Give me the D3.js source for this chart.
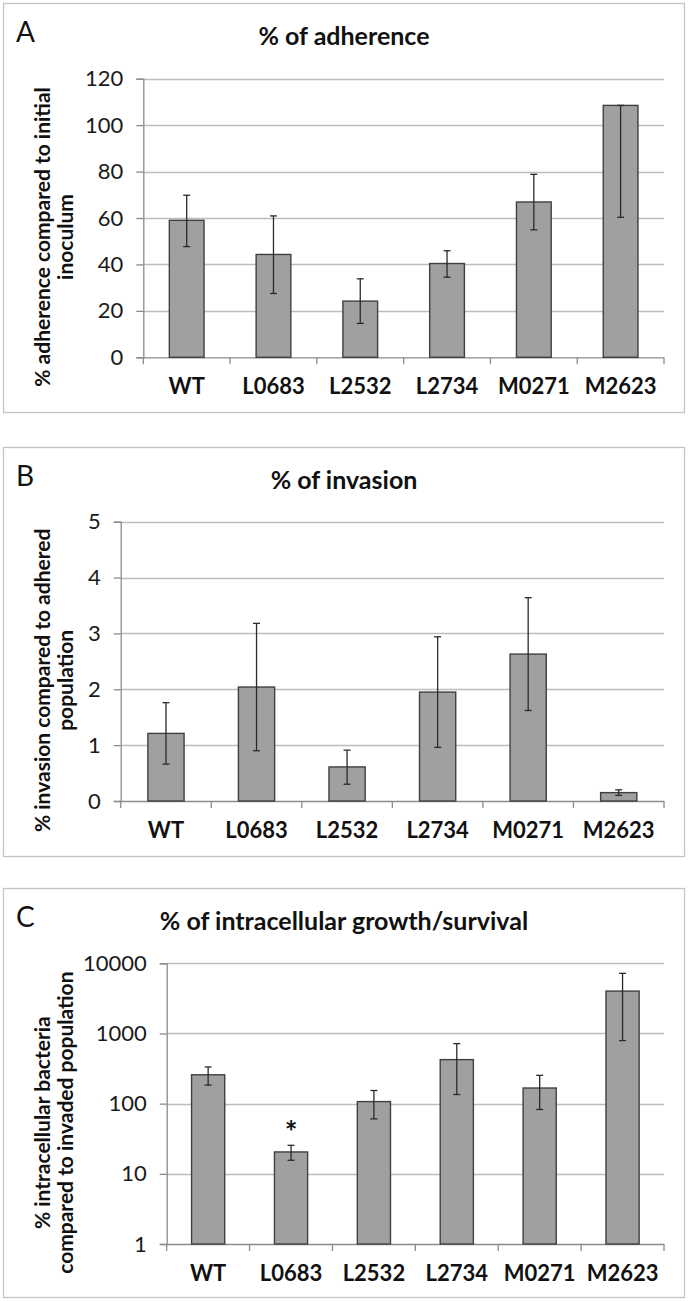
<!DOCTYPE html>
<html>
<head>
<meta charset="utf-8">
<script src="https://cdn.jsdelivr.net/npm/d3@7"></script>
<style>
  body { margin: 0; background: #fff; }
  svg { display: block; font-family: Lato, "Noto Sans", sans-serif; }
</style>
</head>
<body>
<script>
// strains on the x axis (same for the 3 panels)
var strains = ["WT", "L0683", "L2532", "L2734", "M0271", "M2623"];

// A - % of adherence
var adherence   = [59, 44.3, 24.2, 40.4, 66.9, 108.5];
var adherenceHi = [69.8, 60.9, 33.8, 45.9, 78.8, 108.5];
var adherenceLo = [47.7, 27.5, 14.6, 34.5, 54.9, 60.3];
var adherenceTicks = [0, 20, 40, 60, 80, 100, 120];

// B - % of invasion
var invasion   = [1.21, 2.04, 0.61, 1.95, 2.63, 0.15];
var invasionHi = [1.76, 3.18, 0.91, 2.94, 3.64, 0.20];
var invasionLo = [0.66, 0.90, 0.30, 0.96, 1.62, 0.10];
var invasionTicks = [0, 1, 2, 3, 4, 5];

// C - % of intracellular growth/survival (log axis)
var growth   = [258, 20.5, 107, 424, 167, 4020];
var growthHi = [333, 25.5, 154, 717, 253, 7190];
var growthLo = [184, 15.6, 60.7, 135, 82.6, 792];
var growthTicks = [1, 10, 100, 1000, 10000];
var growthStars = ["", "*", "", "", "", ""];

var width = 688, height = 1301;

var svg = d3.select("body").append("svg")
  .attr("width", width)
  .attr("height", height);

function drawPanel(p) {
  var g = svg.append("g");

  // outer frame
  g.append("rect")
    .attr("x", 3.5).attr("y", p.top + 0.5)
    .attr("width", 681).attr("height", p.bottom - p.top)
    .attr("fill", "none").attr("stroke", "#c4c4c4").attr("stroke-width", 1.3);

  g.append("text")
    .attr("x", 16).attr("y", p.top + 39)
    .attr("font-size", 28).attr("fill", "#111")
    .text(p.letter);

  g.append("text")
    .attr("x", 344).attr("y", p.top + 42)
    .attr("text-anchor", "middle")
    .attr("font-size", 25).attr("font-weight", "bold").attr("fill", "#111")
    .text(p.title);

  var x = d3.scaleBand().domain(strains).range([p.left, 664]).padding(0);
  var y = p.log
    ? d3.scaleLog().domain([1, 10000]).range([p.y0, p.y1])
    : d3.scaleLinear().domain([0, d3.max(p.ticks)]).range([p.y0, p.y1]);

  // gridlines
  g.selectAll(".grid").data(p.ticks.slice(1)).enter().append("line")
    .attr("x1", p.left).attr("x2", 664)
    .attr("y1", function(d) { return Math.round(y(d)) + 0.5; })
    .attr("y2", function(d) { return Math.round(y(d)) + 0.5; })
    .attr("stroke", "#bdbdbd").attr("stroke-width", 1.3);

  // y axis
  var yAxis = d3.axisLeft(y).tickValues(p.ticks).tickFormat(d3.format("d"));
  var ya = g.append("g")
    .attr("transform", "translate(" + p.left + ",0)")
    .call(yAxis.tickSize(7).tickPadding(13));
  ya.select(".domain").attr("stroke", "#8c8c8c").attr("stroke-width", 1.3);
  ya.selectAll(".tick line").attr("stroke", "#8c8c8c").attr("stroke-width", 1.3);
  ya.selectAll(".tick text")
    .attr("font-size", 22).attr("fill", "#1a1a1a")
    .style("font-family", "Lato, sans-serif");

  // x axis with ticks on the band boundaries
  g.append("line")
    .attr("x1", p.left).attr("x2", 664)
    .attr("y1", p.y0 + 0.5).attr("y2", p.y0 + 0.5)
    .attr("stroke", "#8c8c8c").attr("stroke-width", 1.3);
  var bounds = strains.map(function(s) { return x(s); }).concat([664]);
  g.selectAll(".xtick").data(bounds).enter().append("line")
    .attr("x1", function(d) { return d; }).attr("x2", function(d) { return d; })
    .attr("y1", p.y0).attr("y2", p.y0 + 7)
    .attr("stroke", "#8c8c8c").attr("stroke-width", 1.3);
  g.selectAll(".xlab").data(strains).enter().append("text")
    .attr("x", function(d) { return x(d) + x.bandwidth() / 2; })
    .attr("y", p.y0 + 37)
    .attr("text-anchor", "middle")
    .attr("font-size", 22).attr("font-weight", "bold").attr("fill", "#111")
    .text(function(d) { return d; });

  // bars
  var bw = x.bandwidth() * 0.4;
  g.selectAll(".bar").data(p.values).enter().append("rect")
    .attr("x", function(d, i) { return x(strains[i]) + (x.bandwidth() - bw) / 2; })
    .attr("y", function(d) { return y(d); })
    .attr("width", bw)
    .attr("height", function(d) { return p.y0 - y(d); })
    .attr("fill", "#a0a0a0").attr("stroke", "#404040").attr("stroke-width", 1.4);

  // error bars
  var eb = g.selectAll(".err").data(p.values).enter().append("g");
  eb.append("line")
    .attr("x1", function(d, i) { return x(strains[i]) + x.bandwidth() / 2; })
    .attr("x2", function(d, i) { return x(strains[i]) + x.bandwidth() / 2; })
    .attr("y1", function(d, i) { return y(p.hi[i]); })
    .attr("y2", function(d, i) { return y(p.lo[i]); });
  eb.append("line")
    .attr("x1", function(d, i) { return x(strains[i]) + x.bandwidth() / 2 - 3.5; })
    .attr("x2", function(d, i) { return x(strains[i]) + x.bandwidth() / 2 + 3.5; })
    .attr("y1", function(d, i) { return y(p.hi[i]); })
    .attr("y2", function(d, i) { return y(p.hi[i]); });
  eb.append("line")
    .attr("x1", function(d, i) { return x(strains[i]) + x.bandwidth() / 2 - 3.5; })
    .attr("x2", function(d, i) { return x(strains[i]) + x.bandwidth() / 2 + 3.5; })
    .attr("y1", function(d, i) { return y(p.lo[i]); })
    .attr("y2", function(d, i) { return y(p.lo[i]); });
  eb.selectAll("line").attr("stroke", "#2a2a2a").attr("stroke-width", 1.3);

  // significance stars
  if (p.stars) {
    g.selectAll(".star").data(p.stars).enter().append("text")
      .attr("x", function(d, i) { return x(strains[i]) + x.bandwidth() / 2; })
      .attr("y", function(d, i) { return y(p.hi[i]) - 2; })
      .attr("text-anchor", "middle")
      .attr("font-size", 30).attr("font-weight", "bold").attr("fill", "#111")
      .text(function(d) { return d; });
  }

  // y axis title, two lines
  var cy = (p.y0 + p.y1) / 2 + 19;
  p.ylab.forEach(function(t, k) {
    g.append("text")
      .attr("transform", "translate(" + (50 + k * 23) + "," + cy + ") rotate(-90)")
      .attr("text-anchor", "middle")
      .attr("font-size", 21).attr("font-weight", "bold").attr("fill", "#111")
      .text(t);
  });
}

drawPanel({
  letter: "A", title: "% of adherence", top: 3, bottom: 412,
  left: 143.3, y0: 357.3, y1: 78.7, ticks: adherenceTicks,
  values: adherence, hi: adherenceHi, lo: adherenceLo,
  ylab: ["% adherence compared to initial", "inoculum"]
});

drawPanel({
  letter: "B", title: "% of invasion", top: 447, bottom: 856,
  left: 120.7, y0: 801, y1: 521.7, ticks: invasionTicks,
  values: invasion, hi: invasionHi, lo: invasionLo,
  ylab: ["% invasion compared to adhered", "population"]
});

drawPanel({
  letter: "C", title: "% of intracellular growth/survival", top: 888, bottom: 1297,
  left: 166.7, y0: 1244, y1: 963.3, ticks: growthTicks, log: true,
  values: growth, hi: growthHi, lo: growthLo, stars: growthStars,
  ylab: ["% intracellular bacteria", "compared to invaded population"]
});
</script>
</body>
</html>
